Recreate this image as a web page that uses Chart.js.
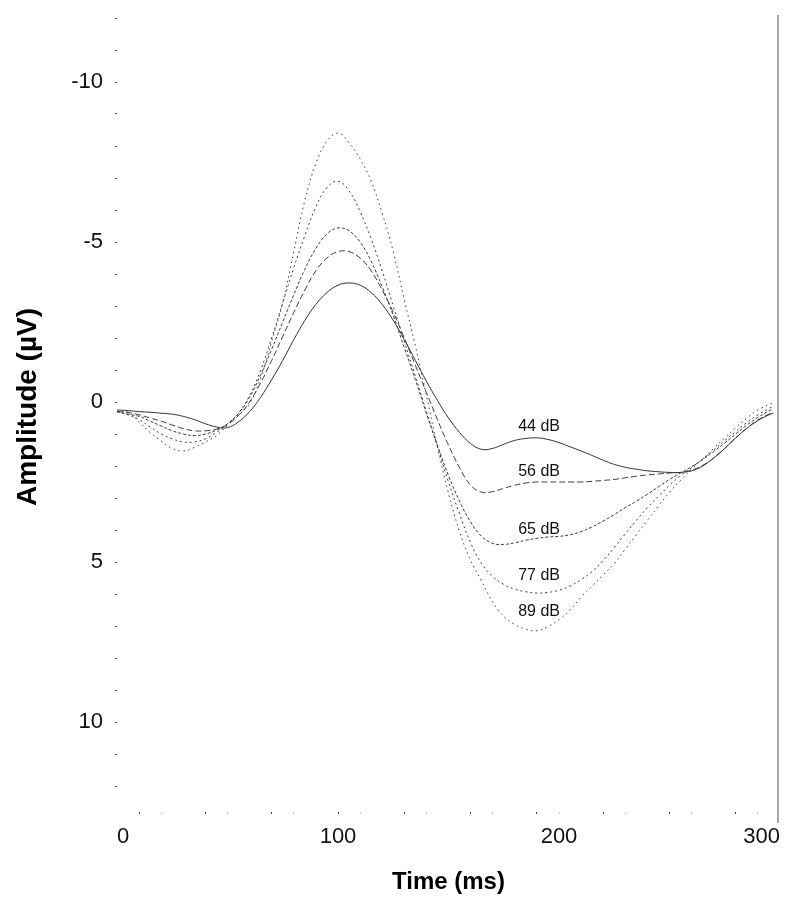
<!DOCTYPE html>
<html><head><meta charset="utf-8">
<script src="https://cdn.jsdelivr.net/npm/chart.js@4/dist/chart.umd.min.js"></script>
<style>html,body{margin:0;padding:0;background:#fff}canvas{display:block}</style>
</head><body>
<canvas id="c" width="792" height="920"></canvas>
<script>
// ---- data ----
const times = [0,5,10,15,20,25,30,35,40,45,50,55,60,65,70,75,80,85,90,95,100,105,110,115,120,125,130,135,140,145,150,155,160,165,170,175,180,185,190,195,200,205,210,215,220,225,230,235,240,245,250,255,260,265,270,275,280,285,290,295,297];
const levels = ['44 dB','56 dB','65 dB','77 dB','89 dB'];
const amp44 = [0.25,0.27,0.3,0.32,0.35,0.38,0.45,0.55,0.68,0.78,0.8,0.62,0.3,-0.15,-0.7,-1.3,-1.95,-2.55,-3.05,-3.42,-3.65,-3.72,-3.65,-3.42,-3.05,-2.55,-1.95,-1.3,-0.65,-0.05,0.5,0.95,1.3,1.48,1.45,1.32,1.2,1.14,1.12,1.17,1.27,1.4,1.53,1.67,1.82,1.95,2.04,2.1,2.15,2.18,2.2,2.2,2.15,2.0,1.75,1.45,1.12,0.82,0.58,0.4,0.35];
const amp56 = [0.3,0.33,0.4,0.5,0.6,0.72,0.83,0.9,0.9,0.85,0.7,0.42,0.0,-0.6,-1.3,-2.05,-2.8,-3.5,-4.1,-4.5,-4.7,-4.7,-4.5,-4.1,-3.5,-2.8,-2.0,-1.15,-0.3,0.55,1.35,2.05,2.6,2.82,2.8,2.7,2.6,2.53,2.5,2.5,2.5,2.5,2.5,2.48,2.45,2.42,2.37,2.32,2.28,2.25,2.22,2.2,2.13,1.98,1.75,1.45,1.12,0.82,0.56,0.38,0.33];
const amp65 = [0.3,0.38,0.45,0.6,0.75,0.9,1.0,1.05,1.0,0.88,0.68,0.35,-0.15,-0.85,-1.65,-2.5,-3.35,-4.15,-4.8,-5.25,-5.44,-5.35,-5.0,-4.4,-3.6,-2.7,-1.7,-0.7,0.35,1.35,2.3,3.1,3.75,4.2,4.42,4.45,4.4,4.32,4.26,4.22,4.2,4.15,4.05,3.9,3.72,3.52,3.3,3.1,2.88,2.65,2.42,2.22,2.02,1.8,1.55,1.28,1.0,0.72,0.48,0.28,0.22];
const amp77 = [0.3,0.4,0.55,0.78,1.0,1.15,1.25,1.25,1.15,0.95,0.7,0.35,-0.2,-1.0,-2.0,-3.1,-4.2,-5.2,-6.1,-6.7,-6.9,-6.6,-5.95,-5.1,-4.1,-3.0,-1.9,-0.8,0.3,1.4,2.5,3.5,4.4,5.05,5.45,5.7,5.85,5.93,5.97,5.95,5.88,5.75,5.55,5.3,4.95,4.55,4.12,3.7,3.3,2.95,2.6,2.3,2.05,1.78,1.5,1.2,0.92,0.64,0.4,0.2,0.15];
const amp89 = [0.3,0.32,0.62,0.95,1.22,1.45,1.53,1.42,1.25,1.05,0.72,0.4,0.05,-0.75,-1.9,-3.1,-4.7,-6.3,-7.45,-8.15,-8.4,-8.1,-7.6,-6.9,-5.9,-4.7,-3.2,-1.75,-0.2,1.4,2.85,4.05,4.95,5.6,6.25,6.7,6.95,7.1,7.15,7.02,6.8,6.5,6.1,5.75,5.4,5.05,4.6,4.15,3.7,3.25,2.82,2.45,2.1,1.78,1.45,1.12,0.8,0.5,0.25,0.08,0.03];
const xTickLabels = [0,100,200,300];
const yTickLabels = [-10,-5,0,5,10];
// in-plot series labels (data coordinates)
const labelTimes = [191,191,191,191,191];
const labelAmps = [0.78,2.19,4.0,5.44,6.56];

const seriesValues = [amp44, amp56, amp65, amp77, amp89];
const dashes = [[], [6,3], [3,2], [2,3], [1.5,3.5]];
const FAMILY = '"Liberation Sans", Arial, sans-serif';
Chart.defaults.font.family = FAMILY;

const overlay = {
  id: 'overlay',
  afterDatasetsDraw(chart) {
    const {ctx, chartArea, scales: {x, y}} = chart;
    ctx.save();
    ctx.font = '16px ' + FAMILY;
    ctx.fillStyle = '#111';
    ctx.textAlign = 'center';
    ctx.textBaseline = 'middle';
    levels.forEach((name, i) => {
      ctx.fillText(name, x.getPixelForValue(labelTimes[i]), y.getPixelForValue(labelAmps[i]));
    });
    ctx.strokeStyle = '#aaaaaa';
    ctx.lineWidth = 2;
    ctx.beginPath();
    const rx = chartArea.right - 2;
    ctx.moveTo(rx, chartArea.top + 13);
    ctx.lineTo(rx, chartArea.bottom + 11);
    ctx.stroke();
    ctx.restore();
  }
};

new Chart(document.getElementById('c'), {
  type: 'line',
  data: {
    datasets: seriesValues.map((arr, i) => ({
      label: levels[i],
      data: times.map((t, k) => ({x: t, y: arr[k]})),
      borderColor: i === 0 ? '#333' : '#3c3c3c',
      borderWidth: 1,
      borderDash: dashes[i],
      pointRadius: 0,
      fill: false,
      tension: 0.4
    }))
  },
  options: {
    responsive: false,
    animation: false,
    devicePixelRatio: 1,
    layout: {autoPadding: false, padding: {top: 2, right: 12, bottom: 0, left: 0}},
    plugins: {legend: {display: false}, tooltip: {enabled: false}},
    scales: {
      x: {
        type: 'linear', min: 0, max: 300,
        border: {display: false},
        grid: {
          drawOnChartArea: false, drawTicks: true, tickLength: 2, lineWidth: 1,
          tickColor: c => {
            const v = c.tick ? c.tick.value : 0;
            if ((v - 10) % 30 === 0) return '#444';
            if ((v - 20) % 30 === 0) return '#c8c8c8';
            return 'rgba(0,0,0,0)';
          }
        },
        ticks: {
          stepSize: 10, autoSkip: false, maxRotation: 0, minRotation: 0, align: 'inner',
          padding: 10, color: '#111', font: {size: 22, family: FAMILY},
          callback: v => xTickLabels.includes(v) ? String(v) : ''
        },
        title: {display: true, text: 'Time (ms)', color: '#000',
          font: {size: 24, weight: 'bold', family: FAMILY}, padding: {top: 0, bottom: 23}},
        afterFit: s => { s.height = 108; s.paddingLeft = 0; s.paddingRight = 0; }
      },
      y: {
        type: 'linear', reverse: true, min: -12.5, max: 12.8125,
        border: {display: false},
        grid: {drawOnChartArea: false, drawTicks: true, tickLength: 2, lineWidth: 1, tickColor: '#555'},
        ticks: {
          stepSize: 1, includeBounds: false, autoSkip: false, padding: 12,
          color: '#111', font: {size: 22, family: FAMILY},
          callback: v => yTickLabels.includes(v) ? String(v) : ''
        },
        title: {display: true, text: 'Amplitude (µV)', color: '#000',
          font: {size: 28, weight: 'bold', family: FAMILY}, padding: {top: 11, bottom: 0}},
        afterFit: s => { s.width = 117; s.paddingTop = 0; s.paddingBottom = 0; }
      }
    }
  },
  plugins: [overlay]
});
</script>
</body></html>
